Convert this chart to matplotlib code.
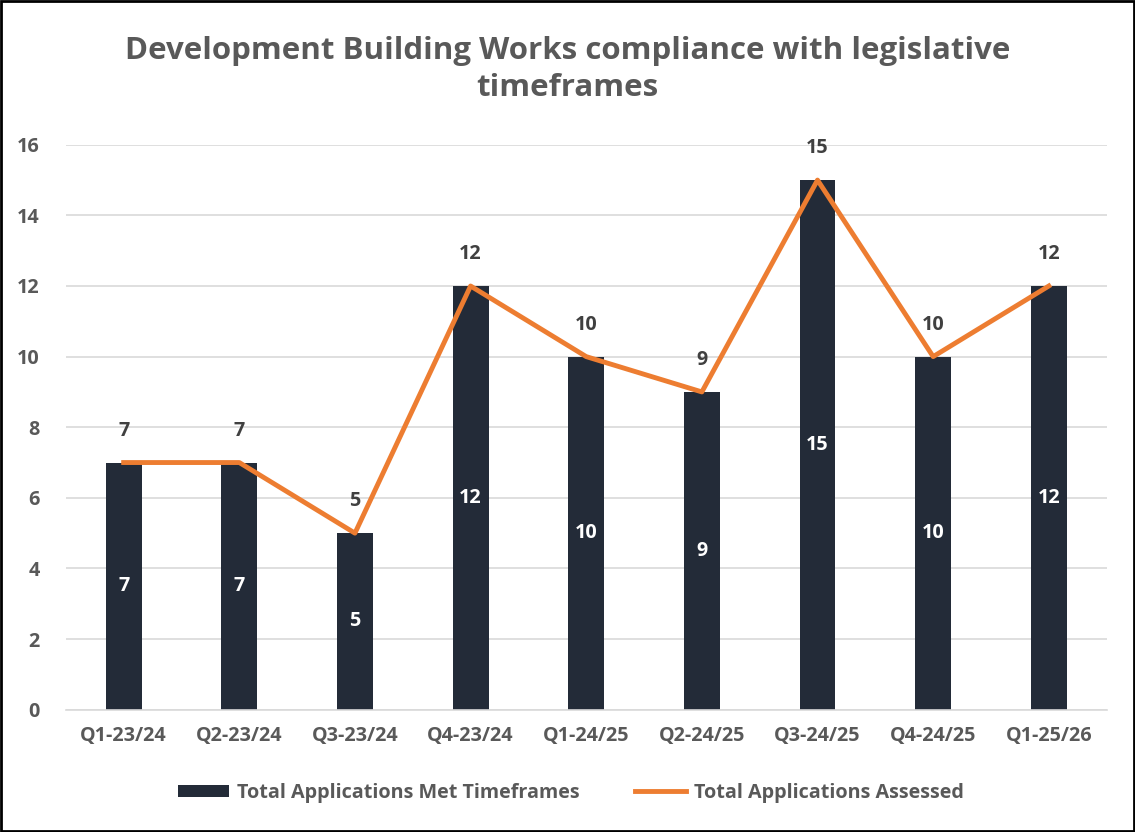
import numpy as np
import matplotlib.pyplot as plt

plt.rcParams['font.family'] = ['Open Sans', 'DejaVu Sans']

quarters = ['Q1-23/24', 'Q2-23/24', 'Q3-23/24', 'Q4-23/24', 'Q1-24/25',
            'Q2-24/25', 'Q3-24/25', 'Q4-24/25', 'Q1-25/26']
met = [7, 7, 5, 12, 10, 9, 15, 10, 12]
assessed = [7, 7, 5, 12, 10, 9, 15, 10, 12]

bar_col = '#232B38'
line_col = '#ED7D31'
txt_col = '#595959'
fs = 14.2

fig = plt.figure(figsize=(11.35, 8.32), dpi=100)
ax = fig.add_axes([0.058, 0.147, 0.917, 0.679])

x = np.arange(len(quarters))
bars = ax.bar(x, met, width=0.31, color=bar_col, label='Total Applications Met Timeframes', zorder=2)
line, = ax.plot(x, assessed, color=line_col, lw=3.5, label='Total Applications Assessed', zorder=3)

for xi, v in zip(x, met):
    ax.text(xi, v / 2, str(v), color='white', ha='center', va='center',
            fontsize=fs, fontweight='bold', zorder=4)
for xi, v in zip(x, assessed):
    ax.text(xi, v + 0.9, str(v), color='#404040', ha='center', va='center',
            fontsize=fs, fontweight='bold', zorder=4)

ax.set_xlim(-0.5, len(quarters) - 0.5)
ax.set_ylim(0, 16)
ax.set_yticks(range(0, 17, 2))
ax.set_xticks(x)
ax.set_xticklabels(quarters)
ax.grid(axis='y', color='#D9D9D9', lw=1.2, zorder=0)
ax.set_axisbelow(True)
for s in ['top', 'right', 'left']:
    ax.spines[s].set_visible(False)
ax.spines['bottom'].set_color('#D9D9D9')
ax.spines['bottom'].set_linewidth(1.2)
ax.tick_params(length=0, labelsize=fs, labelcolor=txt_col, pad=12)
ax.tick_params(axis='y', pad=19)
for lab in ax.get_xticklabels() + ax.get_yticklabels():
    lab.set_fontweight('bold')

fig.text(0.5, 0.916, 'Development Building Works compliance with legislative\ntimeframes',
         ha='center', va='center', fontsize=22.5, fontweight='bold', color=txt_col,
         linespacing=1.3)

leg = fig.legend([bars, line], ['Total Applications Met Timeframes', 'Total Applications Assessed'],
                 loc='center', bbox_to_anchor=(0.503, 0.047), ncol=2, frameon=False,
                 fontsize=fs, handlelength=2.6, handleheight=0.6, columnspacing=2.8,
                 handletextpad=0.4)
for t in leg.get_texts():
    t.set_color(txt_col)
    t.set_fontweight('bold')

fig.patches.append(plt.Rectangle((0.001, 0.001), 0.998, 0.998, transform=fig.transFigure,
                                 fill=False, edgecolor='black', lw=2))

fig.savefig('out.png', dpi=100)
